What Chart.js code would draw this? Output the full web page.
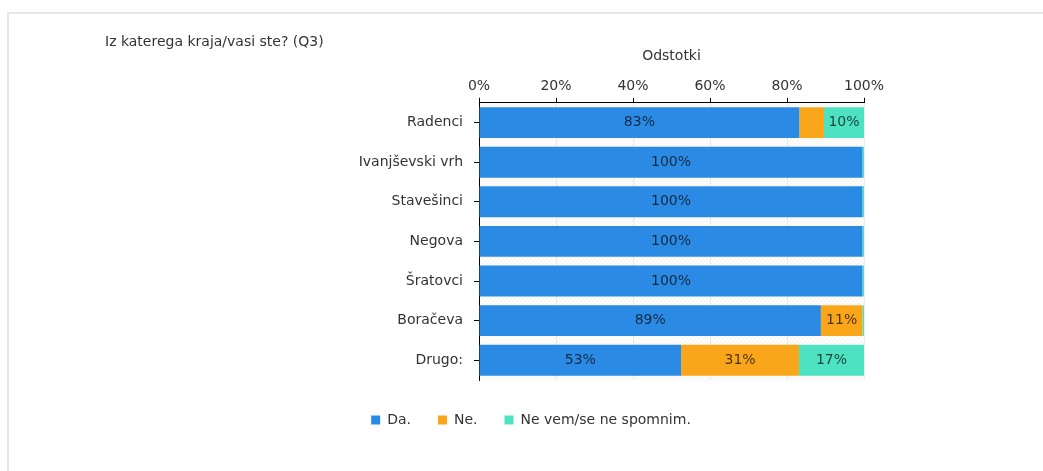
<!DOCTYPE html>
<html>
<head>
<meta charset="utf-8">
<script src="https://cdn.jsdelivr.net/npm/chart.js@4"></script>
<style>
  html, body { margin: 0; padding: 0; background: #fff; overflow: hidden; }
  #wrap { position: relative; width: 1043px; height: 471px; }
  #frame { position: absolute; left: 7px; top: 12px; right: 0; bottom: -4px;
           border-top: 2px solid #e6e6e6; border-left: 2px solid #e6e6e6; }
  canvas { position: absolute; left: 0; top: 0; }
</style>
</head>
<body>
<div id="wrap">
  <div id="frame"></div>
  <canvas id="myChart" width="1043" height="471"></canvas>
</div>
<script>
const kraji = ["Radenci", "Ivanjševski vrh", "Stavešinci", "Negova", "Šratovci", "Boračeva", "Drugo:"];
const da = [83.2, 99.6, 99.6, 99.6, 99.6, 88.8, 52.5];
const ne = [6.4, 0, 0, 0, 0, 10.8, 30.6];
const neVem = [10.4, 0.4, 0.4, 0.4, 0.4, 0.4, 16.9];
const odstotki = [0, 20, 40, 60, 80, 100];

Chart.defaults.font.family = "'DejaVu Sans', Verdana, sans-serif";
Chart.defaults.font.size = 14;
Chart.defaults.color = "#333";

// light diagonal hatch behind the bars
const plotHatch = {
  id: "plotHatch",
  beforeDraw(chart) {
    const { ctx, chartArea: { left, top, right, bottom } } = chart;
    const h = bottom - top;
    ctx.save();
    ctx.beginPath();
    ctx.rect(left, top, right - left, h);
    ctx.clip();
    ctx.strokeStyle = "rgba(215,205,185,0.35)";
    ctx.lineWidth = 1;
    ctx.beginPath();
    for (let x = left - h; x < right; x += 4) {
      ctx.moveTo(x, bottom);
      ctx.lineTo(x + h, top);
    }
    ctx.stroke();
    ctx.restore();
  }
};

// percentage text in the middle of each wide enough segment
const segmentLabels = {
  id: "segmentLabels",
  afterDatasetsDraw(chart) {
    const ctx = chart.ctx;
    ctx.save();
    ctx.font = "14px 'DejaVu Sans', Verdana, sans-serif";
    ctx.textAlign = "center";
    ctx.textBaseline = "middle";
    ctx.fillStyle = "rgba(0,0,0,0.7)";
    chart.data.datasets.forEach((ds, i) => {
      chart.getDatasetMeta(i).data.forEach((bar, j) => {
        const v = ds.data[j];
        if (v < 8) return;
        const p = bar.getProps(["x", "y", "base"], true);
        ctx.fillText(Math.round(v) + "%", (p.x + p.base) / 2, p.y);
      });
    });
    ctx.restore();
  }
};

const ctx = document.getElementById("myChart");
new Chart(ctx, {
  type: "bar",
  data: {
    labels: kraji,
    datasets: [
      { label: "Da.", data: da, backgroundColor: "#2b8be4" },
      { label: "Ne.", data: ne, backgroundColor: "#f9a61b" },
      { label: "Ne vem/se ne spomnim.", data: neVem, backgroundColor: "#4de2c2" }
    ]
  },
  options: {
    indexAxis: "y",
    responsive: false,
    animation: false,
    datasets: { bar: { barPercentage: 0.78, categoryPercentage: 1 } },
    layout: { padding: { left: 105, right: 86, top: 35, bottom: 34 } },
    plugins: {
      title: {
        display: true,
        text: "Iz katerega kraja/vasi ste? (Q3)",
        align: "start",
        color: "#333",
        font: { size: 14, weight: "normal", lineHeight: 1 },
        padding: { top: 0, bottom: 0 }
      },
      legend: {
        position: "bottom",
        labels: { boxWidth: 9, boxHeight: 9, padding: 27, color: "#333", font: { size: 14 } }
      },
      tooltip: { enabled: false }
    },
    scales: {
      x: {
        stacked: true,
        position: "top",
        min: 0,
        max: 100,
        afterBuildTicks(s) { s.ticks = odstotki.map(v => ({ value: v })); },
        ticks: { callback: v => v + "%", padding: 3, color: "#333" },
        grid: { color: "rgba(0,0,0,0.07)", tickColor: "#000", tickLength: 5 },
        border: { color: "#000" },
        title: {
          display: true, text: "Odstotki", color: "#333",
          font: { size: 14, lineHeight: 1 },
          padding: { top: 0, bottom: 12 }
        }
      },
      y: {
        stacked: true,
        ticks: { padding: 11, color: "#333" },
        grid: { offset: false, drawOnChartArea: false, tickColor: "#000", tickLength: 5 },
        border: { color: "#000" },
        afterFit(s) { s.width = 374; }
      },
      padRight: {
        type: "linear", position: "right", display: true,
        ticks: { display: false }, grid: { display: false }, border: { display: false },
        afterFit(s) { s.width = 93; }
      },
      padBottom: {
        type: "linear", position: "bottom", display: true,
        ticks: { display: false }, grid: { display: false }, border: { display: false },
        afterFit(s) { s.height = 6; }
      }
    }
  },
  plugins: [plotHatch, segmentLabels]
});
</script>
</body>
</html>
